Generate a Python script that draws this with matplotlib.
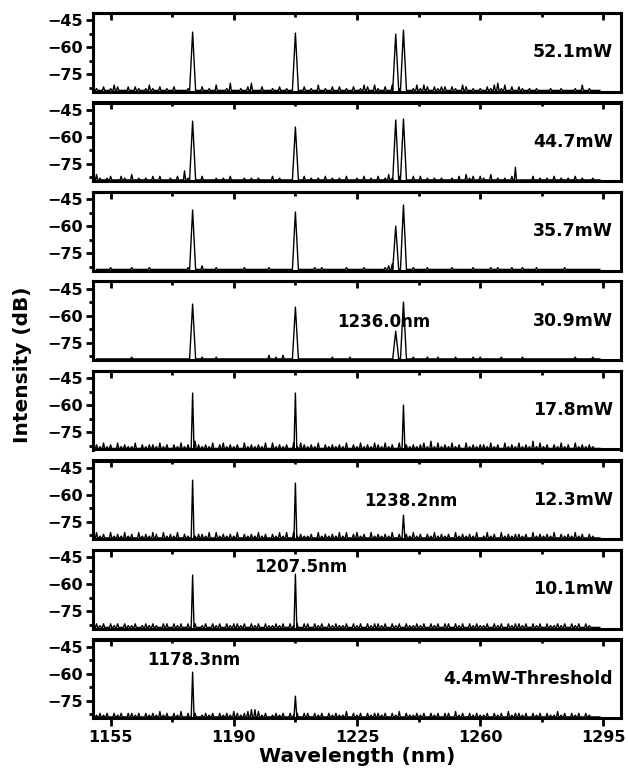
import numpy as np
import matplotlib
matplotlib.use("Agg")
import matplotlib.pyplot as plt
from matplotlib.ticker import FixedLocator

plt.rcParams["font.family"] = ["DejaVu Sans"]
plt.rcParams["font.weight"] = "bold"

# ─── Data ─────────────────────────────────────────────────────────────────────
POWER_LABELS = ["52.1mW", "44.7mW", "35.7mW", "30.9mW",
                "17.8mW", "12.3mW", "10.1mW", "4.4mW-Threshold"]

PEAK_WL = [1178.3, 1207.5, 1236.0, 1238.2]
nan = np.nan
PEAK_DB_52 = [-51.7, -52.2, -52.8, -50.6]
PEAK_DB_44 = [-51.4, -54.7, -50.8, -50.3]
PEAK_DB_35 = [-51.1, -52.2, -60.0, -48.3]
PEAK_DB_30 = [-53.6, -55.3, -68.6, -52.5]
PEAK_DB_17 = [-53.3, -53.3, nan, -60.0]
PEAK_DB_12 = [-52.0, -53.6, nan, -71.4]
PEAK_DB_10 = [-55.0, -54.5, nan, nan]
PEAK_DB_04 = [-59.2, -72.5, nan, nan]

# noise spikes: one digit per nm from 1151 nm, dB above the floor
START_WL = 1151
FLOOR = -84.0
NOISE_52 = ("1020132002" "0210131020" "1020001010" "2010300140" "0102400200"
            "1020100102" "0103010202" "0102013203" "1020321020" "1313202122"
            "0210320101" "0213413020" "2101010001" "0010001030" "1000")
NOISE_44 = ("3101200210" "3010102020" "0102051000" "2000101020" "0010101000"
            "2010000102" "0101020101" "0200102010" "2013102010" "2020101010"
            "0102031202" "1030101027" "0000201010" "2010102010" "0100")
NOISE_35 = ("0000100000" "1000010000" "0000001200" "2000100000" "0010000001"
            "0000000100" "0010100000" "0100001000" "0012300000" "1000100000"
            "0100000100" "0010100010" "0100010000" "0001000000" "0000")
NOISE_30 = ("0000000000" "1000000000" "0000000100" "1000100000" "0000000002"
            "0102001000" "0000000100" "0010000000" "0000000100" "1000100100"
            "0010000101" "0000010000" "0100000000" "0000001000" "0100")
NOISE_17 = ("2131203121" "1302122131" "2021312142" "1213023121" "2031212130"
            "3121203132" "1213021212" "1302131213" "2131203121" "2123141312"
            "1312031212" "2131203121" "3121413120" "2131203121" "2100")
NOISE_12 = ("3120312131" "2031213203" "1213021312" "2130312121" "3021213120"
            "2131303121" "1203121213" "1302312031" "2121302121" "3120213121"
            "2031212130" "1312031212" "2120312121" "3021213120" "2100")
NOISE_10 = ("2120212021" "1201212102" "2021202120" "1202120212" "2120212021"
            "1212021202" "2021202121" "1202120212" "2120212021" "1212021202"
            "2021202121" "1202120212" "2120212021" "1212021202" "1000")
NOISE_04 = ("1212021202" "2120212131" "2021302120" "1212021213" "2123443120"
            "1212021202" "2021202121" "1302120212" "2120213021" "1212021202"
            "2031202121" "1202120312" "2120212021" "1312021202" "1000")

PEAKS = [PEAK_DB_52, PEAK_DB_44, PEAK_DB_35, PEAK_DB_30,
         PEAK_DB_17, PEAK_DB_12, PEAK_DB_10, PEAK_DB_04]
NOISES = [NOISE_52, NOISE_44, NOISE_35, NOISE_30,
          NOISE_17, NOISE_12, NOISE_10, NOISE_04]

# (panel, text, left wavelength, height in axes fraction)
LINE_NOTES = [(3, "1236.0nm", 1219.4, 0.49),
              (5, "1238.2nm", 1227.1, 0.48),
              (6, "1207.5nm", 1195.9, 0.78),
              (7, "1178.3nm", 1165.3, 0.74)]

X_MAJOR = [1155, 1190, 1225, 1260, 1295]
X_MINOR = [1172.5, 1207.5, 1242.5, 1277.5]
Y_MAJOR = [-45, -60, -75]
Y_MINOR = [-52.5, -67.5, -82.5]

# ─── Helpers ──────────────────────────────────────────────────────────────────
def spectrum(noise, peaks_db, half, spike_half=0.3):
    """Floor line with narrow noise spikes plus triangular laser lines."""
    pts = []
    for i, c in enumerate(noise):
        x = START_WL + i
        d = int(c)
        if d == 0:
            pts.append((x, FLOOR))
        else:
            pts += [(x - spike_half, FLOOR), (x, FLOOR + d), (x + spike_half, FLOOR)]
    for wl, db in zip(PEAK_WL, peaks_db):
        if np.isnan(db):
            continue
        pts = [p for p in pts if abs(p[0] - wl) > half]
        pts += [(wl - half, FLOOR), (wl, db), (wl + half, FLOOR)]
    pts.sort()
    xs, ys = zip(*pts)
    return np.array(xs), np.array(ys)

# ─── Figure ───────────────────────────────────────────────────────────────────
W_PX, H_PX = 628, 774
fig = plt.figure(figsize=(W_PX / 100, H_PX / 100), dpi=100)

left, right = 93, 621
top0, step, height = 13, 89.5, 78.5
n = len(POWER_LABELS)
axes = []
for i in range(n):
    t = top0 + step * i
    ax = fig.add_axes([left / W_PX, 1 - (t + height) / H_PX,
                       (right - left) / W_PX, height / H_PX])
    axes.append(ax)

    half = 0.85 if i < 4 else 0.4
    xs, ys = spectrum(NOISES[i], PEAKS[i], half)
    ax.plot(xs, ys, color="black", lw=1.0)

    ax.set_xlim(1150, 1300)
    ax.set_ylim(-84.6, -41.1)
    for sp in ax.spines.values():
        sp.set_linewidth(2.2)

    ax.set_yticks(Y_MAJOR)
    ax.yaxis.set_minor_locator(FixedLocator(Y_MINOR))
    ax.tick_params(axis="y", which="major", direction="out", length=5,
                   width=2, labelsize=11.5, pad=2)
    ax.tick_params(axis="y", which="minor", direction="out", length=3, width=2)

    ax.set_xticks(X_MAJOR)
    ax.xaxis.set_minor_locator(FixedLocator(X_MINOR))
    last = i == n - 1
    ax.tick_params(axis="x", which="both", direction="out", bottom=last,
                   labelbottom=last, width=2, labelsize=11.5, pad=3)
    ax.tick_params(axis="x", which="major", length=6)
    ax.tick_params(axis="x", which="minor", length=3)

    sec = ax.secondary_xaxis("top")
    sec.set_xticks(X_MAJOR)
    sec.xaxis.set_minor_locator(FixedLocator(X_MINOR))
    sec.tick_params(axis="x", which="both", direction="in", labeltop=False, width=2)
    sec.tick_params(axis="x", which="major", length=5)
    sec.tick_params(axis="x", which="minor", length=3)
    sec.spines["top"].set_linewidth(2.2)

    ax.text(0.985, 0.5, POWER_LABELS[i], transform=ax.transAxes,
            ha="right", va="center", fontsize=12.5, fontweight="bold")

for idx, txt, wl, yf in LINE_NOTES:
    axes[idx].text(wl, yf, txt, transform=axes[idx].get_xaxis_transform(),
                   ha="left", va="center", fontsize=12, fontweight="bold")

axes[-1].set_xlabel("Wavelength (nm)", fontsize=14.5, fontweight="bold", labelpad=1)
fig.text(23 / W_PX, 1 - 365 / H_PX, "Intensity (dB)", rotation=90,
         ha="center", va="center", fontsize=14.5, fontweight="bold")

fig.savefig("out.png", dpi=100)
